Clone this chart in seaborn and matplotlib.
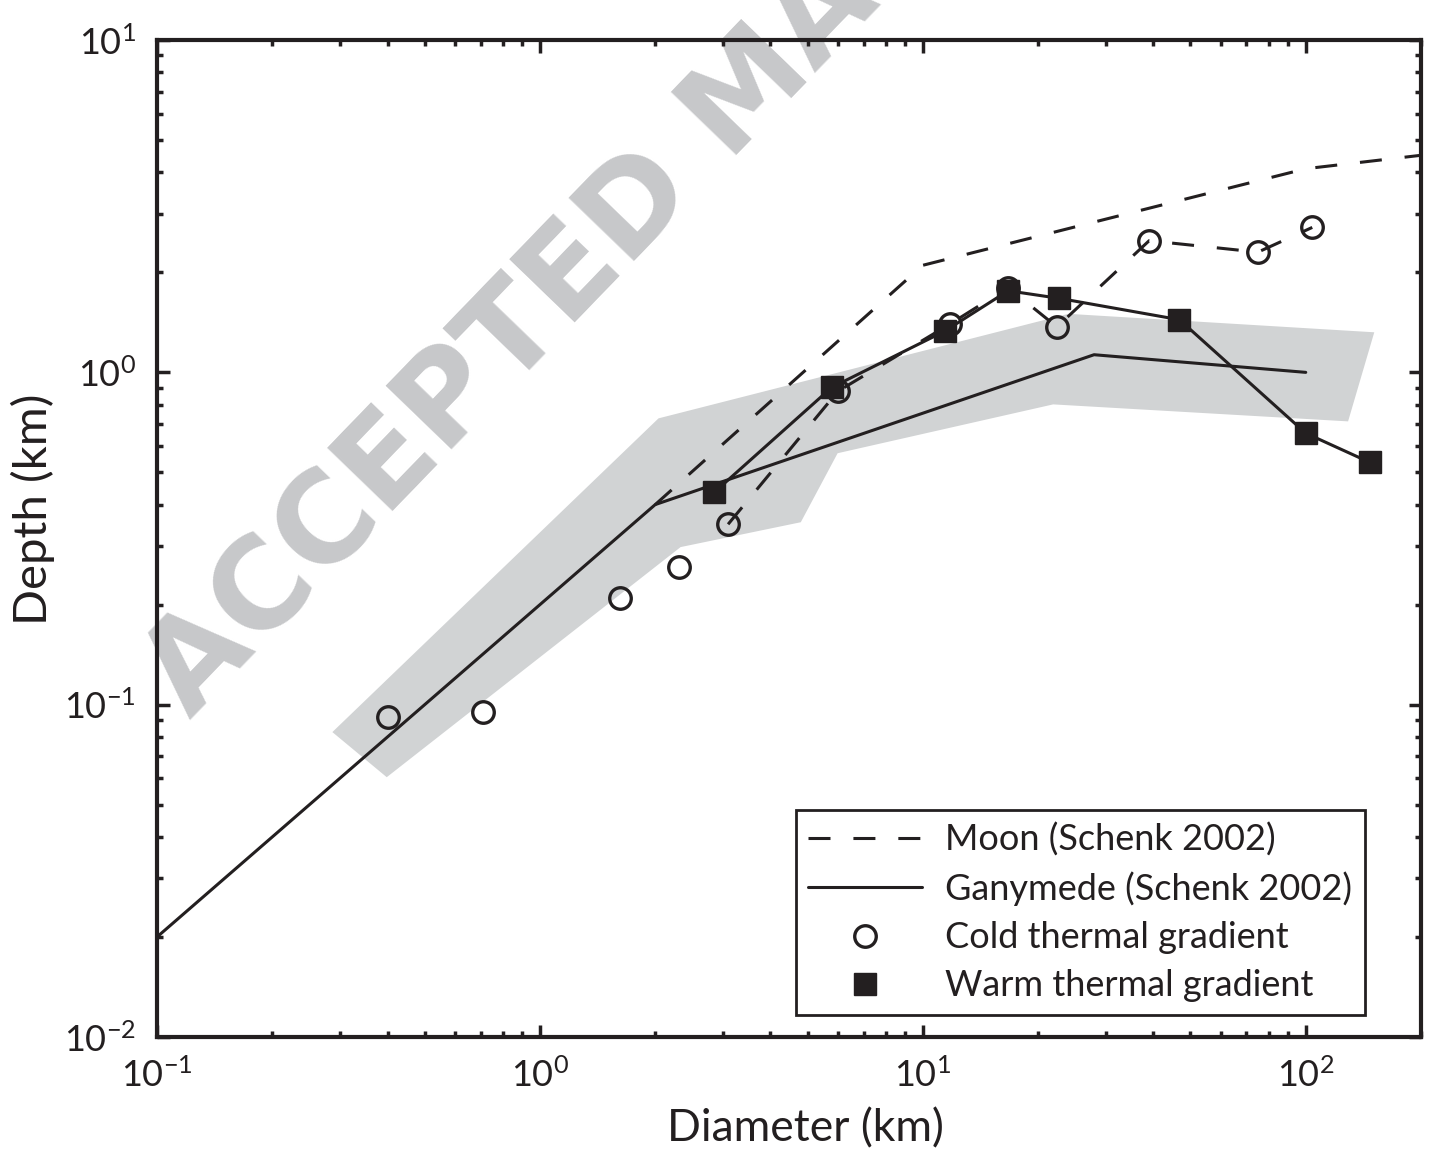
import matplotlib
matplotlib.use("Agg")
import matplotlib.pyplot as plt
import seaborn as sns

# Schenk (2002) depth/diameter trends
moon_diam = [2, 10, 100, 200]
moon_depth = [0.4, 2.1, 4.1, 4.5]
gany_diam = [0.1, 2, 28, 100]
gany_depth = [0.02, 0.4, 1.13, 1.0]

# simulated craters, cold and warm thermal gradient
cold_diam = [0.40, 0.71, 1.62, 2.31, 3.1, 6.0, 11.8, 16.7, 22.4, 39, 75, 104]
cold_depth = [0.092, 0.095, 0.209, 0.259, 0.349, 0.877, 1.40, 1.80, 1.37, 2.49, 2.30, 2.73]
cold_linked_from = 4  # dashed connector starts at the 3 km crater
warm_diam = [2.85, 5.78, 11.4, 16.7, 22.7, 46.8, 100, 147]
warm_depth = [0.435, 0.901, 1.33, 1.76, 1.67, 1.44, 0.656, 0.536]

# grey envelope of Ganymede measurements
band_diam = [0.287, 2.04, 24.0, 151, 129, 21.9, 5.99, 4.80, 2.33, 0.398]
band_depth = [0.0827, 0.727, 1.50, 1.32, 0.712, 0.801, 0.571, 0.354, 0.298, 0.0605]

INK = "#231f20"
GREY = "#d1d3d4"

sns.set_style("ticks")
plt.rcParams["font.family"] = ["Lato", "DejaVu Sans"]
plt.rcParams["mathtext.fontset"] = "custom"
plt.rcParams["mathtext.rm"] = "Lato"
plt.rcParams["mathtext.it"] = "Lato:italic"
plt.rcParams["mathtext.bf"] = "Lato:bold"

fig = plt.figure(figsize=(14.29, 11.54), dpi=100)
ax = fig.add_axes([0.1099, 0.1014, 0.8845, 0.8639])
ax.set_facecolor("none")
ax.set_xscale("log")
ax.set_yscale("log")

ax.fill(band_diam, band_depth, color=GREY, lw=0, zorder=1)

dash = (0, (7.2, 7.5))
sns.lineplot(x=moon_diam, y=moon_depth, ax=ax, color=INK, lw=2.2,
             linestyle=dash, estimator=None, sort=False, zorder=2)
moon_h = ax.lines[-1]
sns.lineplot(x=gany_diam, y=gany_depth, ax=ax, color=INK, lw=2.2,
             estimator=None, sort=False, zorder=2)
gany_h = ax.lines[-1]
sns.lineplot(x=cold_diam[cold_linked_from:], y=cold_depth[cold_linked_from:], ax=ax,
             color=INK, lw=2.2, linestyle=dash, estimator=None, sort=False, zorder=3)
sns.lineplot(x=warm_diam, y=warm_depth, ax=ax, color=INK, lw=2.2,
             estimator=None, sort=False, zorder=3)

sns.lineplot(x=cold_diam, y=cold_depth, ax=ax, linestyle="none", marker="o",
             markersize=15.5, markerfacecolor="none", markeredgecolor=INK,
             markeredgewidth=2.4, estimator=None, sort=False, zorder=4)
cold_h = ax.lines[-1]
sns.lineplot(x=warm_diam, y=warm_depth, ax=ax, linestyle="none", marker="s",
             markersize=15.5, markerfacecolor=INK, markeredgecolor=INK,
             markeredgewidth=1, estimator=None, sort=False, zorder=5)
warm_h = ax.lines[-1]

ax.set_xlim(0.1, 200)
ax.set_ylim(0.01, 10)

for s in ax.spines.values():
    s.set_linewidth(3)
    s.set_color(INK)
ax.tick_params(which="both", direction="in", top=True, right=True, color=INK,
               labelcolor=INK)
ax.tick_params(which="major", length=9, width=2.5, labelsize=26, pad=15)
ax.tick_params(which="minor", length=4.5, width=2.5)

ax.set_xlabel("Diameter (km)", fontsize=32, color=INK)
ax.set_ylabel("Depth (km)", fontsize=34, color=INK)
ax.xaxis.set_label_coords(0.513, -0.071)
ax.yaxis.set_label_coords(-0.081, 0.529)

leg = ax.legend([moon_h, gany_h, cold_h, warm_h],
                ["Moon (Schenk 2002)", "Ganymede (Schenk 2002)",
                 "Cold thermal gradient", "Warm thermal gradient"],
                loc="lower right", bbox_to_anchor=(0.9557, 0.022), borderaxespad=0,
                fontsize=26, frameon=True, fancybox=False, framealpha=1,
                edgecolor=INK, handlelength=3.15, handletextpad=0.65,
                labelspacing=0.42, borderpad=0.35)
leg.get_frame().set_linewidth(2)
for t in leg.get_texts():
    t.set_color(INK)

# journal watermark, sits under the plot
fig.text(0.1337, 0.3752, "ACCEPTED MANUSCRIPT", rotation=46, rotation_mode="anchor",
         ha="left", va="baseline", fontsize=90, fontweight="bold", color="#c7c8ca",
         family="DejaVu Sans", zorder=-1)

fig.savefig("out.png", dpi=100)
